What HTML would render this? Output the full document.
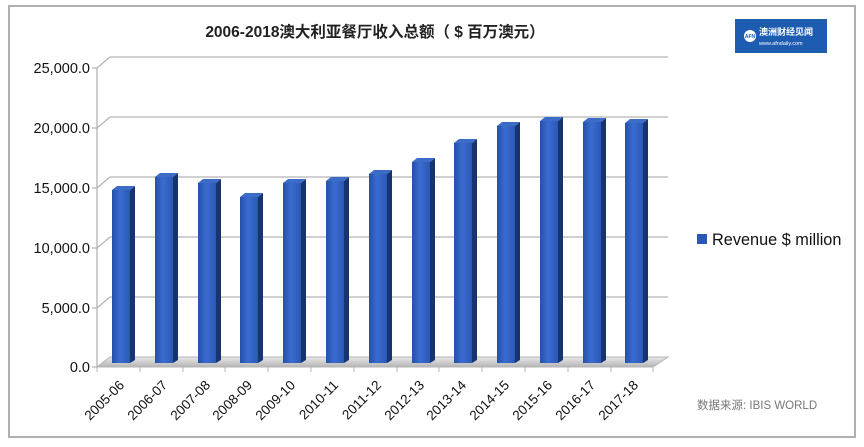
<!DOCTYPE html>
<html><head><meta charset="utf-8"><style>
html,body{margin:0;padding:0;background:#fff;}
svg{display:block;}
</style></head><body>
<svg width="864" height="447" xmlns="http://www.w3.org/2000/svg" font-family="'Liberation Sans','Noto Sans CJK SC',sans-serif">
<defs>
<linearGradient id="fr" x1="0" x2="1" y1="0" y2="0">
<stop offset="0" stop-color="#2450a8"/><stop offset="0.45" stop-color="#3a6cd0"/><stop offset="1" stop-color="#2a58b4"/>
</linearGradient>
<linearGradient id="fl" x1="0" x2="0" y1="0" y2="1">
<stop offset="0" stop-color="#e8e8e8"/><stop offset="1" stop-color="#b5b5b5"/>
</linearGradient>
</defs>
<rect x="0" y="0" width="864" height="447" fill="#fff"/>
<rect x="9" y="6" width="846" height="431" fill="none" stroke="#b0b0b0" stroke-width="2"/>
<text x="375" y="37" text-anchor="middle" font-size="15.5" font-weight="bold" fill="#222">2006-2018澳大利亚餐厅收入总额（ $ 百万澳元）</text>
<rect x="735" y="19" width="92" height="34" fill="#1d5cb0"/>
<circle cx="750" cy="36" r="6" fill="#fff"/>
<text x="750" y="38" text-anchor="middle" font-size="5" fill="#1d5cb0" font-weight="bold">AFN</text>
<text x="759" y="35" font-size="9" fill="#fff" font-weight="bold">澳洲财经见闻</text>
<text x="759" y="45" font-size="5.5" fill="#fff">www.afndaily.com</text>
<g stroke="#b4b4b4" stroke-width="1.3" fill="none">
<path d="M92 68 L97 68 L110 57 L668 57"/>
<path d="M92 128 L97 128 L110 117 L668 117"/>
<path d="M92 188 L97 188 L110 177 L668 177"/>
<path d="M92 248 L97 248 L110 237 L668 237"/>
<path d="M92 308 L97 308 L110 297 L668 297"/>
<path d="M92 367 L97 367"/>
<path d="M97 68 L97 367"/>
</g>
<polygon points="97,367 653,367 668,357 110,357" fill="url(#fl)" stroke="#b4b4b4" stroke-width="1"/>
<g stroke="#b4b4b4" stroke-width="1">
<line x1="97" y1="367" x2="97" y2="372"/><line x1="140" y1="367" x2="140" y2="372"/><line x1="183" y1="367" x2="183" y2="372"/><line x1="225" y1="367" x2="225" y2="372"/><line x1="268" y1="367" x2="268" y2="372"/><line x1="311" y1="367" x2="311" y2="372"/><line x1="354" y1="367" x2="354" y2="372"/><line x1="397" y1="367" x2="397" y2="372"/><line x1="439" y1="367" x2="439" y2="372"/><line x1="482" y1="367" x2="482" y2="372"/><line x1="525" y1="367" x2="525" y2="372"/><line x1="568" y1="367" x2="568" y2="372"/><line x1="611" y1="367" x2="611" y2="372"/><line x1="653" y1="367" x2="653" y2="372"/>
</g>
<g font-size="14.5" fill="#111" text-anchor="end">
<text x="90" y="73">25,000.0</text>
<text x="90" y="133">20,000.0</text>
<text x="90" y="193">15,000.0</text>
<text x="90" y="253">10,000.0</text>
<text x="90" y="313">5,000.0</text>
<text x="90" y="372">0.0</text>
</g>
<g id="bars">
<g><polygon points="130,190 135,186 135,360 130,363" fill="#17346e"/><polygon points="112,190 117,186 135,186 130,190" fill="#3d6cc8"/><rect x="112" y="190" width="18" height="173" fill="url(#fr)"/></g>
<g><polygon points="173,177 178,173 178,360 173,363" fill="#17346e"/><polygon points="155,177 160,173 178,173 173,177" fill="#3d6cc8"/><rect x="155" y="177" width="18" height="186" fill="url(#fr)"/></g>
<g><polygon points="216,183 221,179 221,360 216,363" fill="#17346e"/><polygon points="198,183 203,179 221,179 216,183" fill="#3d6cc8"/><rect x="198" y="183" width="18" height="180" fill="url(#fr)"/></g>
<g><polygon points="258,197 263,193 263,360 258,363" fill="#17346e"/><polygon points="240,197 245,193 263,193 258,197" fill="#3d6cc8"/><rect x="240" y="197" width="18" height="166" fill="url(#fr)"/></g>
<g><polygon points="301,183 306,179 306,360 301,363" fill="#17346e"/><polygon points="283,183 288,179 306,179 301,183" fill="#3d6cc8"/><rect x="283" y="183" width="18" height="180" fill="url(#fr)"/></g>
<g><polygon points="344,181 349,177 349,360 344,363" fill="#17346e"/><polygon points="326,181 331,177 349,177 344,181" fill="#3d6cc8"/><rect x="326" y="181" width="18" height="182" fill="url(#fr)"/></g>
<g><polygon points="387,174 392,170 392,360 387,363" fill="#17346e"/><polygon points="369,174 374,170 392,170 387,174" fill="#3d6cc8"/><rect x="369" y="174" width="18" height="189" fill="url(#fr)"/></g>
<g><polygon points="430,162 435,158 435,360 430,363" fill="#17346e"/><polygon points="412,162 417,158 435,158 430,162" fill="#3d6cc8"/><rect x="412" y="162" width="18" height="201" fill="url(#fr)"/></g>
<g><polygon points="472,143 477,139 477,360 472,363" fill="#17346e"/><polygon points="454,143 459,139 477,139 472,143" fill="#3d6cc8"/><rect x="454" y="143" width="18" height="220" fill="url(#fr)"/></g>
<g><polygon points="515,126 520,122 520,360 515,363" fill="#17346e"/><polygon points="497,126 502,122 520,122 515,126" fill="#3d6cc8"/><rect x="497" y="126" width="18" height="237" fill="url(#fr)"/></g>
<g><polygon points="558,121 563,117 563,360 558,363" fill="#17346e"/><polygon points="540,121 545,117 563,117 558,121" fill="#3d6cc8"/><rect x="540" y="121" width="18" height="242" fill="url(#fr)"/></g>
<g><polygon points="601,122 606,118 606,360 601,363" fill="#17346e"/><polygon points="583,122 588,118 606,118 601,122" fill="#3d6cc8"/><rect x="583" y="122" width="18" height="241" fill="url(#fr)"/></g>
<g><polygon points="643,123 648,119 648,360 643,363" fill="#17346e"/><polygon points="625,123 630,119 648,119 643,123" fill="#3d6cc8"/><rect x="625" y="123" width="18" height="240" fill="url(#fr)"/></g>
</g>
<g font-size="13.5" fill="#111" text-anchor="end">
<text transform="translate(125,386) rotate(-45)">2005-06</text>
<text transform="translate(168,386) rotate(-45)">2006-07</text>
<text transform="translate(211,386) rotate(-45)">2007-08</text>
<text transform="translate(253,386) rotate(-45)">2008-09</text>
<text transform="translate(296,386) rotate(-45)">2009-10</text>
<text transform="translate(339,386) rotate(-45)">2010-11</text>
<text transform="translate(382,386) rotate(-45)">2011-12</text>
<text transform="translate(425,386) rotate(-45)">2012-13</text>
<text transform="translate(467,386) rotate(-45)">2013-14</text>
<text transform="translate(510,386) rotate(-45)">2014-15</text>
<text transform="translate(553,386) rotate(-45)">2015-16</text>
<text transform="translate(596,386) rotate(-45)">2016-17</text>
<text transform="translate(639,386) rotate(-45)">2017-18</text>
</g>
<rect x="697" y="234" width="10" height="10" fill="#2a58b4"/>
<text x="712" y="245" font-size="16.3" fill="#111">Revenue $ million</text>
<text x="697" y="409" font-size="11.5" fill="#777">数据来源:  IBIS WORLD</text>
</svg>
</body></html>
